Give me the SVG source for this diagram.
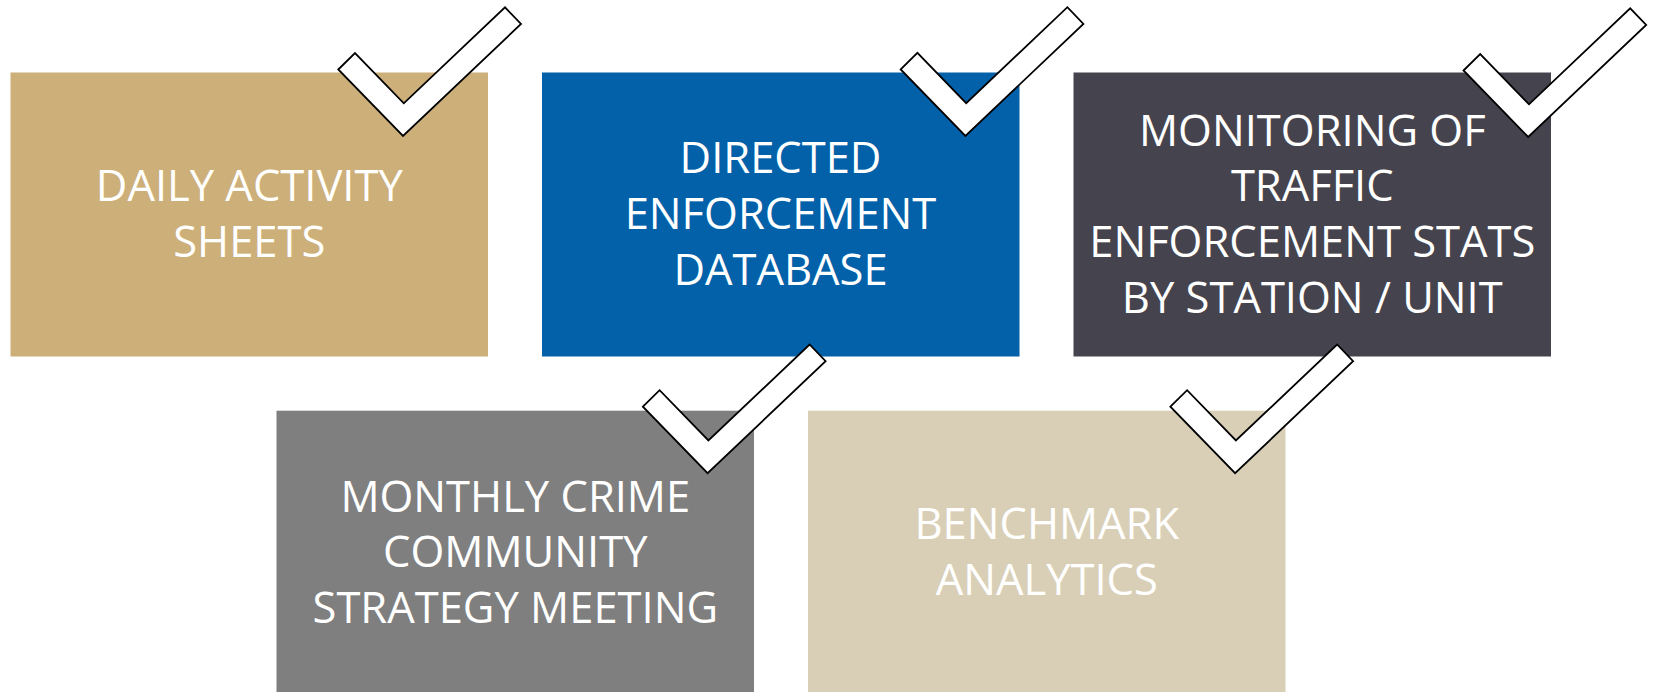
<svg xmlns="http://www.w3.org/2000/svg" xmlns:xlink="http://www.w3.org/1999/xlink" width="1653" height="692" viewBox="0 0 1653 692">
  <style>
    .box { stroke: none; }
    .lbl { font-family: "Open Sans", "Liberation Sans", sans-serif; font-size: 43.5px; font-weight: 400; fill: #ffffff; text-anchor: middle; }
    .check { fill: #ffffff; stroke: #000000; stroke-width: 1.8; stroke-linejoin: miter; }
  </style>
  <defs>
    <polygon id="tick" class="check" points="0,0 16.7,-16.5 65.5,33.8 166.7,-62.2 182.7,-45.5 64.7,66.5"/>
  </defs>
  <rect width="1653" height="692" fill="#ffffff"/>

  <g id="node-daily-activity">
    <rect class="box" x="10.5" y="72.5" width="477.5" height="284" fill="#CDB079"/>
    <text class="lbl" x="249.3" y="201">DAILY ACTIVITY</text>
    <text class="lbl" x="249.3" y="256.7">SHEETS</text>
  </g>

  <g id="node-directed-enforcement">
    <rect class="box" x="542" y="72.5" width="477.5" height="284" fill="#0261A9"/>
    <text class="lbl" x="780.5" y="173.3">DIRECTED</text>
    <text class="lbl" x="780.5" y="229">ENFORCEMENT</text>
    <text class="lbl" x="780.5" y="284.6">DATABASE</text>
  </g>

  <g id="node-monitoring-traffic">
    <rect class="box" x="1073.5" y="72.5" width="477.5" height="284" fill="#45444E"/>
    <text class="lbl" x="1312.3" y="145.7">MONITORING OF</text>
    <text class="lbl" x="1312.3" y="201.3">TRAFFIC</text>
    <text class="lbl" x="1312.3" y="257">ENFORCEMENT STATS</text>
    <text class="lbl" x="1312.3" y="312.6">BY STATION / UNIT</text>
  </g>

  <g id="node-monthly-crime">
    <rect class="box" x="276.5" y="410.7" width="477.5" height="284" fill="#7F7F7F"/>
    <text class="lbl" x="515.3" y="511.5">MONTHLY CRIME</text>
    <text class="lbl" x="515.3" y="567">COMMUNITY</text>
    <text class="lbl" x="515.3" y="622.5">STRATEGY MEETING</text>
  </g>

  <g id="node-benchmark">
    <rect class="box" x="808" y="410.7" width="477.5" height="284" fill="#D9CFB7"/>
    <text class="lbl" x="1046.8" y="539.3">BENCHMARK</text>
    <text class="lbl" x="1046.8" y="595">ANALYTICS</text>
  </g>

  <g id="checkmarks">
    <use xlink:href="#tick" href="#tick" transform="translate(338.3,69.5)"/>
    <use xlink:href="#tick" href="#tick" transform="translate(900.7,69.4)"/>
    <use xlink:href="#tick" href="#tick" transform="translate(1463.5,70.5)"/>
    <use xlink:href="#tick" href="#tick" transform="translate(642.9,406.7)"/>
    <use xlink:href="#tick" href="#tick" transform="translate(1170.4,406.7)"/>
  </g>
</svg>
